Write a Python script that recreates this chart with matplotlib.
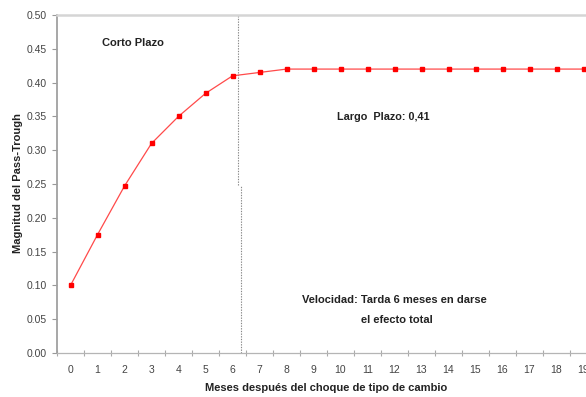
import matplotlib.pyplot as plt
import numpy as np

plt.rcParams['font.family'] = ['Liberation Sans', 'DejaVu Sans']

# Pass-through por mes despues del choque
meses = list(range(20))
pass_through = [0.10, 0.175, 0.247, 0.31, 0.35, 0.384, 0.41, 0.415, 0.42, 0.42,
                0.42, 0.42, 0.42, 0.42, 0.42, 0.42, 0.42, 0.42, 0.42, 0.42]
y_ticks = [0.00, 0.05, 0.10, 0.15, 0.20, 0.25, 0.30, 0.35, 0.40, 0.45, 0.50]

# Linea que separa corto y largo plazo (dibujada en dos tramos)
corte_sup_x = 6.2
corte_inf_x = 6.3
corte_y = 0.248

fig = plt.figure(figsize=(5.86, 3.97), dpi=100)
ax = fig.add_axes([57 / 586, 1 - 353 / 397, 540 / 586, 338 / 397])

ax.plot(meses, pass_through, color='#ff4a4a', linewidth=0.9, zorder=3,
        marker='s', markersize=3, markerfacecolor='red', markeredgecolor='red')

ax.plot([corte_sup_x, corte_sup_x], [corte_y, 0.50], color='#888888',
        linestyle=(0, (1.2, 1.2)), linewidth=0.8, zorder=2)
ax.plot([corte_inf_x, corte_inf_x], [0.0, corte_y], color='#888888',
        linestyle=(0, (1.2, 1.2)), linewidth=0.8, zorder=2)

ax.set_xlim(-0.5, 19.5)
ax.set_ylim(0, 0.50)
ax.set_yticks(y_ticks)
ax.set_yticklabels([f'{v:.2f}' for v in y_ticks])
ax.set_xticks(meses)
ax.set_xticklabels([str(m) for m in meses])
ax.set_xticks(np.arange(-0.5, 20, 1), minor=True)

ax.tick_params(axis='y', direction='out', length=3.5, width=0.8, color='#999999',
               labelsize=7.5, labelcolor='#444444', pad=3.6)
ax.tick_params(axis='x', which='major', length=0, labelsize=7.5,
               labelcolor='#444444', pad=8.5)
ax.tick_params(axis='x', which='minor', direction='inout', length=5, width=0.8,
               color='#aaaaaa')

ax.spines['right'].set_visible(False)
ax.spines['left'].set_color('#a0a0a0')
ax.spines['left'].set_linewidth(1.3)
ax.spines['bottom'].set_color('#b5b5b5')
ax.spines['bottom'].set_linewidth(0.9)
ax.spines['top'].set_color('#d5d5d5')
ax.spines['top'].set_linewidth(1.8)

fig.text(18 / 586, 1 - 183 / 397, 'Magnitud del Pass-Trough', rotation=90,
         ha='center', va='center', fontsize=8, fontweight='bold', color='#222222')
fig.text(326 / 586, 1 - 388 / 397, 'Meses después del choque de tipo de cambio',
         ha='center', va='center', fontsize=8, fontweight='bold', color='#222222')

ax.text(2.3, 0.458, 'Corto Plazo', ha='center', va='center', fontsize=8,
        fontweight='bold', color='#222222')
ax.text(11.6, 0.349, 'Largo  Plazo: 0,41', ha='center', va='center', fontsize=7.8,
        fontweight='bold', color='#222222')
ax.text(12.0, 0.078, 'Velocidad: Tarda 6 meses en darse', ha='center', va='center',
        fontsize=8, fontweight='bold', color='#222222')
ax.text(12.1, 0.049, 'el efecto total', ha='center', va='center',
        fontsize=8, fontweight='bold', color='#222222')

fig.savefig('out.png', dpi=100, facecolor='white')
